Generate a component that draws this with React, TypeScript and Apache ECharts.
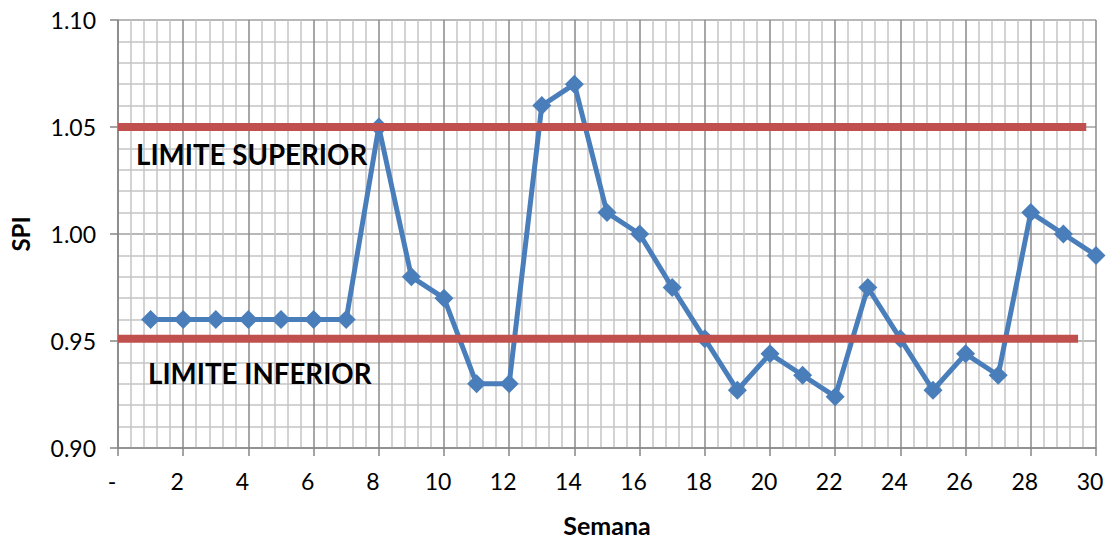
import React, { useEffect, useRef } from "react";
import * as echarts from "echarts";

const weeks = [1, 2, 3, 4, 5, 6, 7, 8, 9, 10, 11, 12, 13, 14, 15, 16, 17, 18, 19, 20, 21, 22, 23, 24, 25, 26, 27, 28, 29, 30];
const spi = [0.96, 0.96, 0.96, 0.96, 0.96, 0.96, 0.96, 1.05, 0.98, 0.97, 0.93, 0.93, 1.06, 1.07, 1.01, 1.0, 0.975, 0.951, 0.927, 0.944, 0.934, 0.924, 0.975, 0.951, 0.927, 0.944, 0.934, 1.01, 1.0, 0.99];
const upperLimitX = [0, 29.7];
const upperLimitY = [1.05, 1.05];
const lowerLimitX = [0, 29.45];
const lowerLimitY = [0.951, 0.951];
const upperLabel = "LIMITE SUPERIOR";
const lowerLabel = "LIMITE INFERIOR";

const FONT = "Lato, 'Open Sans', sans-serif";

export default function App() {
  const ref = useRef<HTMLDivElement>(null);
  useEffect(() => {
    document.body.style.margin = "0";
    const chart = echarts.init(ref.current!, undefined, { renderer: "svg" });
    const limitStyle = { color: "#c0504d", width: 8 };
    chart.setOption({
      animation: false,
      backgroundColor: "#ffffff",
      grid: { left: 117, right: 22, top: 20, bottom: 93, containLabel: false },
      xAxis: {
        type: "value",
        min: 0,
        max: 30,
        interval: 2,
        name: "Semana",
        nameLocation: "middle",
        nameGap: 64,
        nameTextStyle: { fontFamily: FONT, fontWeight: "bold", fontSize: 25, color: "#000" },
        axisLine: { show: true, lineStyle: { color: "#868686", width: 1.5 } },
        axisTick: { show: true, length: 8, lineStyle: { color: "#868686", width: 1.5 } },
        axisLabel: {
          fontFamily: FONT,
          fontSize: 23,
          color: "#000",
          margin: 21,
          padding: [0, 12, 0, 0],
          formatter: (v: number) => (v === 0 ? "-" : String(v)),
        },
        splitLine: { show: true, lineStyle: { color: "#8a8a8a", width: 1.5 } },
        minorTick: { show: false, splitNumber: 5 },
        minorSplitLine: { show: true, lineStyle: { color: "#c4c4c4", width: 1.5 } },
      },
      yAxis: {
        type: "value",
        min: 0.9,
        max: 1.1,
        interval: 0.05,
        name: "SPI",
        nameLocation: "middle",
        nameGap: 86,
        nameRotate: 90,
        nameTextStyle: { fontFamily: FONT, fontWeight: "bold", fontSize: 24, color: "#000" },
        axisLine: { show: true, lineStyle: { color: "#868686", width: 1.5 } },
        axisTick: { show: true, length: 8, lineStyle: { color: "#868686", width: 1.5 } },
        axisLabel: {
          fontFamily: FONT,
          fontSize: 23,
          color: "#000",
          margin: 22,
          formatter: (v: number) => v.toFixed(2),
        },
        splitLine: { show: true, lineStyle: { color: "#a0a0a0", width: 1.5 } },
        minorTick: { show: false, splitNumber: 5 },
        minorSplitLine: { show: true, lineStyle: { color: "#c4c4c4", width: 1.5 } },
      },
      series: [
        {
          type: "line",
          data: weeks.map((w, i) => [w, spi[i]]),
          symbol: "diamond",
          symbolSize: 19,
          itemStyle: { color: "#4a7ebb" },
          lineStyle: { color: "#4a7ebb", width: 5 },
          z: 3,
        },
        {
          type: "line",
          data: upperLimitX.map((x, i) => [x, upperLimitY[i]]),
          showSymbol: false,
          symbolSize: 0,
          itemStyle: { color: "#c0504d" },
          lineStyle: limitStyle,
          z: 4,
        },
        {
          type: "line",
          data: lowerLimitX.map((x, i) => [x, lowerLimitY[i]]),
          showSymbol: false,
          symbolSize: 0,
          itemStyle: { color: "#c0504d" },
          lineStyle: limitStyle,
          z: 4,
        },
      ],
      graphic: [
        {
          type: "text",
          left: 136,
          top: 140,
          z: 10,
          style: { text: upperLabel, fontFamily: FONT, fontWeight: "bold", fontSize: 27.7, fill: "#000" },
        },
        {
          type: "text",
          left: 148,
          top: 359,
          z: 10,
          style: { text: lowerLabel, fontFamily: FONT, fontWeight: "bold", fontSize: 27.7, fill: "#000" },
        },
      ],
    });
    return () => chart.dispose();
  }, []);
  return <div ref={ref} style={{ width: 1118, height: 542 }} />;
}
